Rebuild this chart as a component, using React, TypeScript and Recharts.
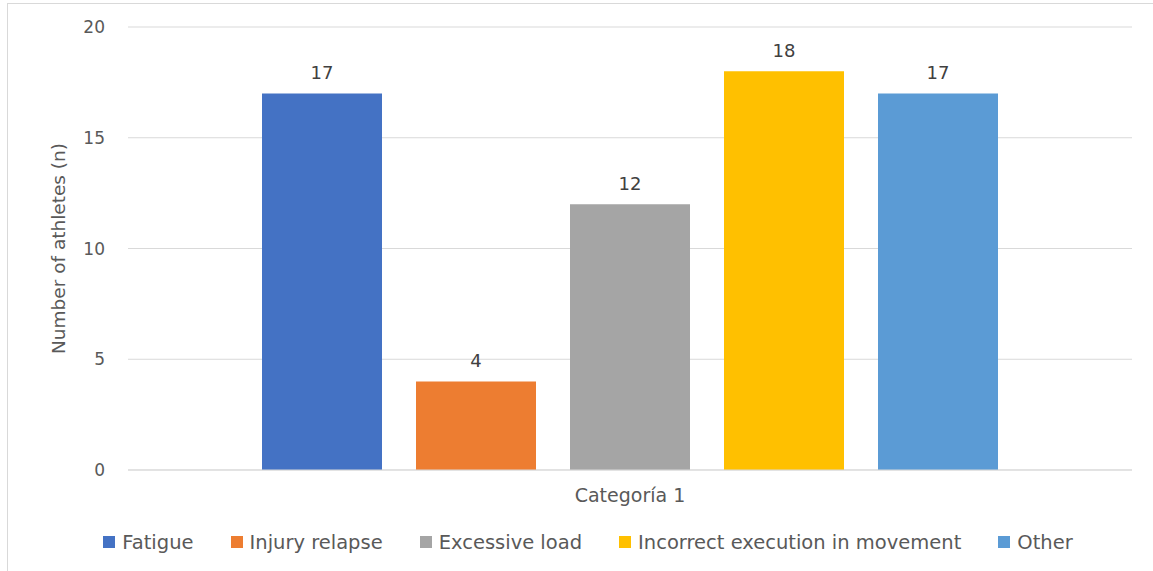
import { BarChart, Bar, XAxis, YAxis, CartesianGrid, Legend, LabelList } from 'recharts'

const category = 'Categoría 1'
const seriesNames = ['Fatigue', 'Injury relapse', 'Excessive load', 'Incorrect execution in movement', 'Other']
const seriesValues = [17, 4, 12, 18, 17]
const seriesColors = ['#4472C4', '#ED7D31', '#A5A5A5', '#FFC000', '#5B9BD5']
const yTicks = [0, 5, 10, 15, 20]

const FONT = '"DejaVu Sans", "Open Sans", sans-serif'

// one row, one key per cause
const data = [
  seriesNames.reduce<Record<string, string | number>>(
    (row, name, i) => {
      row[name] = seriesValues[i]
      return row
    },
    { name: category }
  ),
]

// legend kept in series order (recharts sorts by name otherwise)
function LegendBox() {
  return (
    <div
      style={{
        display: 'flex',
        justifyContent: 'center',
        alignItems: 'center',
        height: 30,
        fontFamily: FONT,
        fontSize: 19.5,
        color: '#595959',
      }}
    >
      {seriesNames.map((name, i) => (
        <div key={name} style={{ display: 'flex', alignItems: 'center', margin: '0 18.5px' }}>
          <span style={{ width: 12, height: 12, background: seriesColors[i], marginRight: 7, display: 'inline-block' }} />
          <span>{name}</span>
        </div>
      ))}
    </div>
  )
}

export default function App() {
  return (
    <div
      style={{
        position: 'fixed',
        left: 7,
        top: 3,
        width: 1160,
        height: 600,
        border: '1px solid #d9d9d9',
        background: '#fff',
      }}
    >
      <BarChart
        width={1160}
        height={600}
        data={data}
        margin={{ top: 23, right: 36, bottom: 47, left: 0 }}
        barSize={120}
        barGap={34}
      >
        <CartesianGrid vertical={false} stroke="#d9d9d9" />
        <XAxis
          dataKey="name"
          height={57}
          stroke="#d9d9d9"
          tickLine={false}
          tickSize={0}
          tickMargin={19}
          tick={{ fill: '#595959', fontSize: 19, fontFamily: FONT }}
        />
        <YAxis
          width={120}
          domain={[0, 20]}
          ticks={yTicks}
          axisLine={false}
          tickLine={false}
          tickSize={0}
          tickMargin={23}
          tick={{ fill: '#595959', fontSize: 17, fontFamily: FONT }}
          label={{
            value: 'Number of athletes (n)',
            angle: -90,
            position: 'center',
            dx: -10,
            dy: 0,
            fill: '#595959',
            fontSize: 18.5,
            fontFamily: FONT,
          }}
        />
        <Legend verticalAlign="bottom" content={<LegendBox />} wrapperStyle={{ left: 0, width: 1160 }} />
        {seriesNames.map((name, i) => (
          <Bar key={name} dataKey={name} fill={seriesColors[i]} isAnimationActive={false}>
            <LabelList
              dataKey={name}
              position="top"
              offset={14}
              fill="#404040"
              fontSize={18}
              fontFamily={FONT}
            />
          </Bar>
        ))}
      </BarChart>
    </div>
  )
}
